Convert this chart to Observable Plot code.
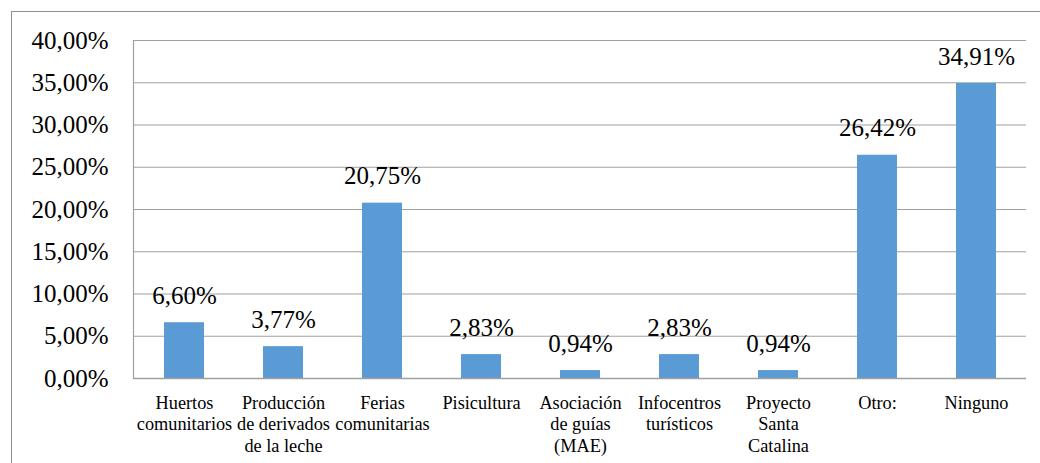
<!DOCTYPE html>
<html>
<head>
<meta charset="utf-8">
<script src="https://cdn.jsdelivr.net/npm/d3@7"></script>
<script src="https://cdn.jsdelivr.net/npm/@observablehq/plot@0.6"></script>
<style>
  html, body { margin: 0; padding: 0; background: #fff; }
  #wrap { position: relative; width: 1040px; height: 463px; overflow: hidden; }
  #border { position: absolute; left: 11px; top: 11px; width: 1040px; height: 460px;
            border-top: 1.5px solid #8e8e8e; border-left: 1.5px solid #8e8e8e; box-sizing: border-box; }
  #chart { position: absolute; left: 0; top: 0; }
  #chart svg, #chart svg text, #chart svg g { font-family: "Liberation Serif", "Times New Roman", serif !important; }
</style>
</head>
<body>
<div id="wrap"><div id="border"></div><div id="chart"></div></div>
<script>
const categories = [
  "Huertos\ncomunitarios",
  "Producción\nde derivados\nde la leche",
  "Ferias\ncomunitarias",
  "Pisicultura",
  "Asociación\nde guías\n(MAE)",
  "Infocentros\nturísticos",
  "Proyecto\nSanta\nCatalina",
  "Otro:",
  "Ninguno"
];
const values = [6.60, 3.77, 20.75, 2.83, 0.94, 2.83, 0.94, 26.42, 34.91];
const yTicks = [0, 5, 10, 15, 20, 25, 30, 35, 40];

const data = categories.map((c, i) => ({category: c, value: values[i]}));
const fmt = v => v.toFixed(2).replace(".", ",") + "%";
const serif = "'Liberation Serif', 'Times New Roman', serif";

const chart = Plot.plot({
  width: 1040,
  height: 463,
  marginLeft: 133,
  marginRight: 14,
  marginTop: 40,
  marginBottom: 85,
  style: {fontFamily: serif, background: "transparent", color: "#000"},
  x: {domain: categories, paddingInner: 0.6, paddingOuter: 0.3, label: null},
  y: {domain: [0, 40], label: null},
  marks: [
    Plot.gridY(yTicks, {stroke: "#a0a0a0", strokeOpacity: 1, strokeWidth: 1.2}),
    Plot.frame({anchor: "left", stroke: "#a0a0a0", strokeWidth: 1.2}),
    Plot.barY(data, {x: "category", y: "value", fill: "#5b9bd5"}),
    Plot.ruleY([0], {stroke: "#a0a0a0", strokeWidth: 1.5}),
    Plot.text(data, {x: "category", y: "value", text: d => fmt(d.value), lineAnchor: "bottom", dy: -19, fontSize: 25, fontFamily: serif, fill: "#000"}),
    Plot.axisY({ticks: yTicks, tickFormat: fmt, tickSize: 0, tickPadding: 25, fontSize: 25, fontFamily: serif, label: null}),
    Plot.axisX({tickSize: 0, tickPadding: 15, fontSize: 18.3, fontFamily: serif, lineHeight: 1.18, label: null})
  ]
});
document.getElementById("chart").appendChild(chart);
</script>
</body>
</html>
